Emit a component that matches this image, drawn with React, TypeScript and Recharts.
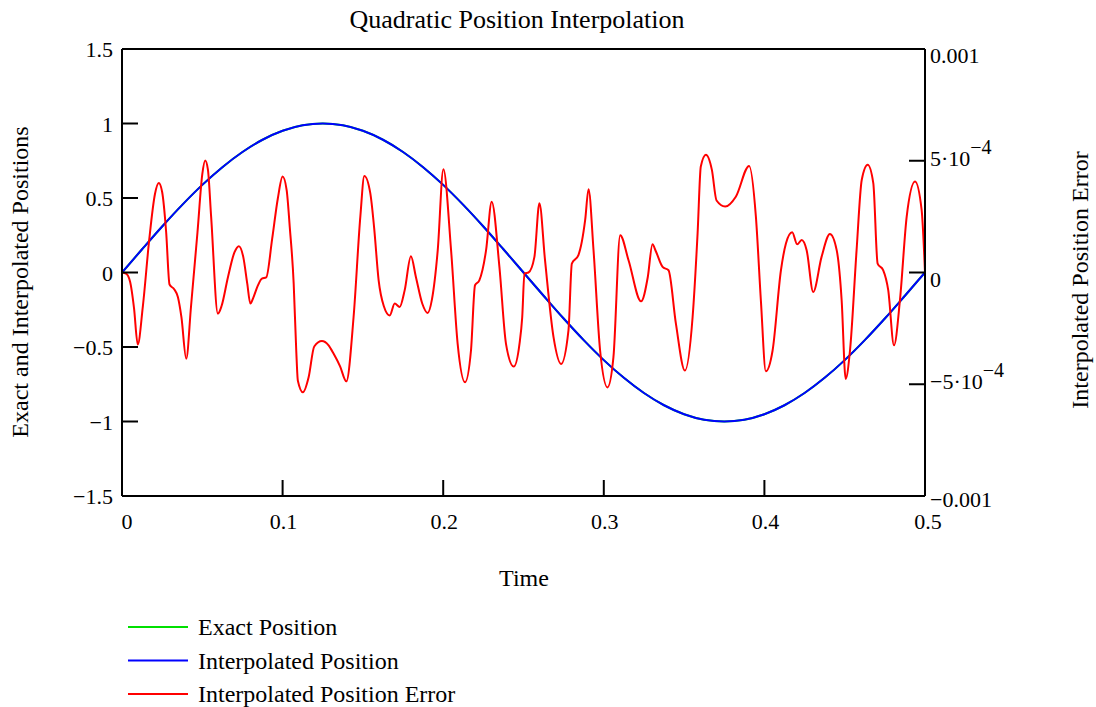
import { CartesianGrid, Line, LineChart, XAxis, YAxis } from "recharts"

// interpolated / exact position
const posTime = [
  0, 0.0125, 0.025, 0.0375, 0.05, 0.0625, 0.075, 0.0875, 0.1, 0.1125, 0.125, 0.1375, 0.15, 0.1625,
  0.175, 0.1875, 0.2, 0.2125, 0.225, 0.2375, 0.25, 0.2625, 0.275, 0.2875, 0.3, 0.3125, 0.325, 0.3375,
  0.35, 0.3625, 0.375, 0.3875, 0.4, 0.4125, 0.425, 0.4375, 0.45, 0.4625, 0.475, 0.4875, 0.5,
]
const posValue = [
  0, 0.156, 0.309, 0.454, 0.588, 0.707, 0.809, 0.891, 0.951, 0.988, 1, 0.988, 0.951, 0.891, 0.809,
  0.707, 0.588, 0.454, 0.309, 0.156, 0, -0.156, -0.309, -0.454, -0.588, -0.707, -0.809, -0.891,
  -0.951, -0.988, -1, -0.988, -0.951, -0.891, -0.809, -0.707, -0.588, -0.454, -0.309, -0.156, 0,
]

// interpolation error, in units of 1e-4
const errTime = [
  0, 0.0025, 0.005, 0.0075, 0.0098, 0.013, 0.017, 0.0205, 0.0229, 0.025, 0.0275, 0.0296, 0.0325,
  0.0348, 0.037, 0.04, 0.043, 0.047, 0.05, 0.0518, 0.0535, 0.0555, 0.0597, 0.062, 0.066, 0.07, 0.0728,
  0.0755, 0.078, 0.0799, 0.0819, 0.0845, 0.0871, 0.0898, 0.0935, 0.097, 0.1, 0.1025, 0.1045, 0.1069,
  0.1085, 0.1095, 0.1127, 0.1162, 0.1197, 0.1245, 0.1285, 0.1318, 0.1358, 0.1397, 0.1442, 0.1484,
  0.1509, 0.1546, 0.157, 0.1598, 0.163, 0.1667, 0.1698, 0.1729, 0.176, 0.1799, 0.183, 0.187, 0.1903,
  0.193, 0.1966, 0.2001, 0.2049, 0.209, 0.2136, 0.2173, 0.2198, 0.2225, 0.2267, 0.2302, 0.235, 0.2391,
  0.2439, 0.2475, 0.2492, 0.2506, 0.2531, 0.2568, 0.2599, 0.2634, 0.2687, 0.2734, 0.278, 0.2801,
  0.2842, 0.2884, 0.2905, 0.2936, 0.2977, 0.3023, 0.306, 0.3102, 0.3154, 0.3232, 0.3274, 0.3303,
  0.3324, 0.3366, 0.3403, 0.3449, 0.3505, 0.3553, 0.3584, 0.3604, 0.3636, 0.3673, 0.3702, 0.3756,
  0.3822, 0.3905, 0.3947, 0.3978, 0.4009, 0.4051, 0.4103, 0.4134, 0.4173, 0.4204, 0.4232, 0.4263,
  0.4304, 0.4356, 0.4408, 0.445, 0.4481, 0.4506, 0.4533, 0.4574, 0.4606, 0.4643, 0.4678, 0.4705,
  0.474, 0.4771, 0.4807, 0.4844, 0.4886, 0.4938, 0.4979, 0.5,
]
const errValue = [
  0, -0.05, -0.4, -1.6, -3.22, -1.5, 1.5, 3.5, 4.0, 3.6, 1.8, -0.54, -0.75, -1.1, -2.0, -3.86, -1.5,
  1.8, 4.4, 5.01, 4.6, 2.5, -1.84, -1.5, -0.2, 0.9, 1.18, 0.7, -0.5, -1.39, -1.1, -0.6, -0.27, -0.22,
  1.5, 3.3, 4.29, 3.7, 2.0, -0.49, -3.5, -4.84, -5.36, -4.69, -3.31, -3.07, -3.25, -3.64, -4.2, -4.87,
  -1.99, 2.5, 4.32, 3.55, 2.0, -0.35, -1.5, -1.92, -1.39, -1.54, -0.8, 0.73, -0.2, -1.4, -1.81, -1.2,
  1.0, 4.62, 1.0, -3.19, -4.91, -3.49, -0.57, -0.35, 1.0, 3.17, 0.25, -3.19, -4.21, -3.19, -2.0,
  -0.04, 0.0, 0.7, 3.1, 0.55, -2.89, -4.09, -2.59, 0.4, 0.78, 2.35, 3.73, 1.0, -3.49, -5.14, -3.79,
  1.67, 0.55, -1.29, -0.2, 1.26, 0.95, 0.25, 0.1, -2.29, -4.39, -1.99, 1.75, 4.74, 5.27, 4.59, 3.22,
  2.95, 3.39, 4.77, 2.5, -1.24, -4.42, -3.49, 0.1, 1.3, 1.8, 1.26, 1.45, 1.0, -0.87, 0.7, 1.72, 1.0,
  -1.24, -4.76, -3.49, 1.0, 4.14, 4.82, 4.0, 0.4, 0.1, -0.79, -3.26, -1.24, 2.5, 4.07, 2.8, 0,
]

const xTicks = [0, 0.1, 0.2, 0.3, 0.4, 0.5]
const xTickLabels = ["0", "0.1", "0.2", "0.3", "0.4", "0.5"]
const leftTicks = [-1.5, -1, -0.5, 0, 0.5, 1, 1.5]
const leftTickLabels = ["\u22121.5", "\u22121", "\u22120.5", "0", "0.5", "1", "1.5"]
const rightTicks = [-0.001, -0.0005, 0, 0.0005, 0.001]

const seriesNames = ["Exact Position", "Interpolated Position", "Interpolated Position Error"]
const seriesColors = ["#00e000", "#0000ff", "#ff0000"]

const posData = posTime.map((t, i) => ({ t, v: posValue[i] }))
const errData = errTime.map((t, i) => ({ t, e: errValue[i] * 1e-4 }))

const FONT = "'Liberation Serif', 'Times New Roman', serif"
const TICK_LEN = 16

function BottomTick({ x, y, payload, index }: any) {
  const label = xTickLabels[xTicks.indexOf(payload.value)] ?? String(payload.value)
  const shift = index === 0 ? 5 : index === xTicks.length - 1 ? 3 : 1
  return (
    <g>
      <line x1={x} x2={x} y1={y} y2={y - TICK_LEN} stroke="#000" strokeWidth={2} />
      <text x={x + shift} y={y + 33} textAnchor="middle" fontFamily={FONT} fontSize={22} fill="#000">
        {label}
      </text>
    </g>
  )
}

function TopTick({ x, y }: any) {
  return <line x1={x} x2={x} y1={y} y2={y + TICK_LEN} stroke="#000" strokeWidth={2} />
}

function LeftTick({ x, y, payload }: any) {
  const label = leftTickLabels[leftTicks.indexOf(payload.value)] ?? String(payload.value)
  return (
    <g>
      <line x1={x} x2={x + TICK_LEN} y1={y} y2={y} stroke="#000" strokeWidth={2} />
      <text x={x - 9} y={y + 8} textAnchor="end" fontFamily={FONT} fontSize={22} fill="#000">
        {label}
      </text>
    </g>
  )
}

function RightTick({ x, y, payload }: any) {
  const v = payload.value as number
  let label
  if (Math.abs(v) === 0.0005) {
    label = (
      <text x={x + 5} y={y + 5} fontFamily={FONT} fontSize={22} fill="#000">
        {v < 0 ? "\u22125\u00b710" : "5\u00b710"}
        <tspan dy={-12} fontSize={20}>{"\u22124"}</tspan>
      </text>
    )
  } else {
    const s = v === 0 ? "0" : v > 0 ? "0.001" : "\u22120.001"
    label = (
      <text x={x + 5} y={y + (v < 0 ? 11 : 14)} fontFamily={FONT} fontSize={22} fill="#000">
        {s}
      </text>
    )
  }
  return (
    <g>
      <line x1={x - TICK_LEN} x2={x} y1={y} y2={y} stroke="#000" strokeWidth={2} />
      {label}
    </g>
  )
}

export default function App() {
  return (
    <div style={{ position: "absolute", left: 0, top: 0, width: 1096, height: 707, background: "#fff" }}>
      <LineChart width={1096} height={707} margin={{ top: 48, right: 0, bottom: 0, left: 0 }}>
        <CartesianGrid stroke="none" />
        <XAxis
          xAxisId="b"
          dataKey="t"
          type="number"
          domain={[0, 0.5]}
          ticks={xTicks}
          height={211}
          axisLine={{ stroke: "#000", strokeWidth: 2 }}
          tickLine={false}
          tickSize={0}
          tickMargin={0}
          tick={(p: any) => <BottomTick {...p} />}
          allowDataOverflow
        />
        <XAxis
          xAxisId="top"
          orientation="top"
          dataKey="t"
          type="number"
          domain={[0, 0.5]}
          ticks={xTicks}
          height={1}
          axisLine={{ stroke: "#000", strokeWidth: 2 }}
          tickLine={false}
          tickSize={0}
          tickMargin={0}
          tick={(p: any) => <TopTick {...p} />}
        />
        <YAxis
          yAxisId="l"
          domain={[-1.5, 1.5]}
          ticks={leftTicks}
          width={122}
          axisLine={{ stroke: "#000", strokeWidth: 2 }}
          tickLine={false}
          tickSize={0}
          tickMargin={0}
          tick={(p: any) => <LeftTick {...p} />}
          allowDataOverflow
        />
        <YAxis
          yAxisId="r"
          orientation="right"
          domain={[-0.001, 0.001]}
          ticks={rightTicks}
          width={171}
          axisLine={{ stroke: "#000", strokeWidth: 2 }}
          tickLine={false}
          tickSize={0}
          tickMargin={0}
          tick={(p: any) => <RightTick {...p} />}
          allowDataOverflow
        />
        <Line
          xAxisId="b"
          yAxisId="l"
          data={posData}
          dataKey="v"
          name={seriesNames[0]}
          stroke={seriesColors[0]}
          strokeWidth={2}
          type="monotone"
          dot={false}
          isAnimationActive={false}
        />
        <Line
          xAxisId="b"
          yAxisId="l"
          data={posData}
          dataKey="v"
          name={seriesNames[1]}
          stroke={seriesColors[1]}
          strokeWidth={2}
          type="monotone"
          dot={false}
          isAnimationActive={false}
        />
        <Line
          xAxisId="b"
          yAxisId="r"
          data={errData}
          dataKey="e"
          name={seriesNames[2]}
          stroke={seriesColors[2]}
          strokeWidth={2}
          type="monotone"
          dot={false}
          isAnimationActive={false}
        />
      </LineChart>
      <svg
        width={1096}
        height={707}
        style={{ position: "absolute", left: 0, top: 0, pointerEvents: "none" }}
        fontFamily={FONT}
        fill="#000"
      >
        <text x={517} y={28} textAnchor="middle" fontSize={26}>
          Quadratic Position Interpolation
        </text>
        <text x={524} y={586} textAnchor="middle" fontSize={24}>
          Time
        </text>
        <text x={28} y={282} textAnchor="middle" fontSize={24} transform="rotate(-90 28 282)">
          Exact and Interpolated Positions
        </text>
        <text x={1088} y={280} textAnchor="middle" fontSize={24} transform="rotate(-90 1088 280)">
          Interpolated Position Error
        </text>
        {seriesNames.map((name, i) => (
          <g key={name}>
            <line x1={128} x2={188} y1={627 + i * 33.5} y2={627 + i * 33.5} stroke={seriesColors[i]} strokeWidth={2} />
            <text x={198} y={635 + i * 33.5} fontSize={24}>
              {name}
            </text>
          </g>
        ))}
      </svg>
    </div>
  )
}
